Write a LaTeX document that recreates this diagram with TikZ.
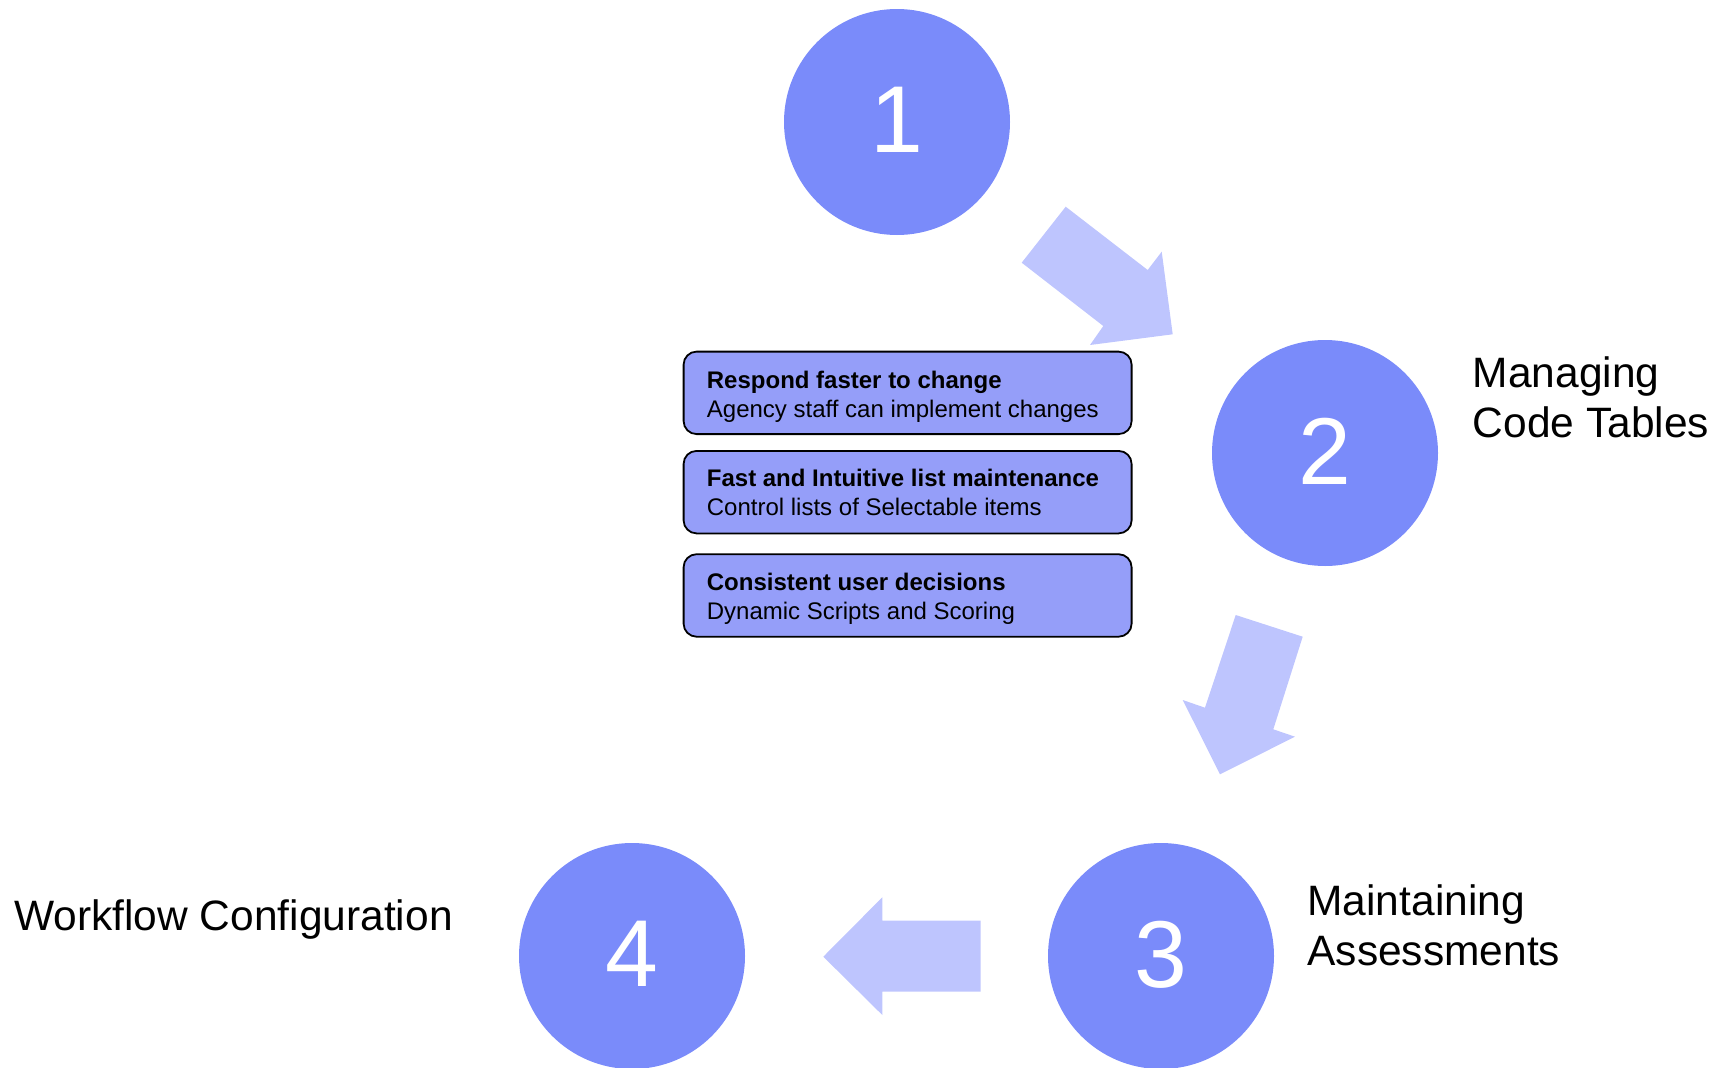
\documentclass[tikz,border=0pt]{standalone}
\usepackage{fontspec}
\setmainfont{Liberation Sans}
\definecolor{circfill}{HTML}{7A8BFA}
\definecolor{boxfill}{HTML}{959EF9}
\definecolor{arrowfill}{HTML}{BEC5FE}
\begin{document}
\begin{tikzpicture}[x=1pt,y=-1pt,
  numcirc/.style={circle,fill=circfill,minimum size=226pt,inner sep=0pt,text=white,
    font=\fontsize{95}{95}\selectfont},
  infobox/.style={draw=black,line width=1.8pt,rounded corners=13pt,fill=boxfill,
    minimum width=448pt,minimum height=82.5pt,anchor=north west,inner sep=0pt},
  boxtext/.style={anchor=base west,align=left,inner sep=0pt,
    font=\fontsize{24}{29}\selectfont},
  lbl/.style={anchor=base west,align=left,inner sep=0pt,font=\fontsize{42.5}{50}\selectfont},
  blockarrow/.style={fill=arrowfill}]
\useasboundingbox (0,0) rectangle (1711,1068);
% circles
\node[numcirc] (c1) at (897,122) {\raisebox{4pt}{1}};
\node[numcirc] (c2) at (1325,453) {\raisebox{4pt}{2}};
\node[numcirc] (c3) at (1161,956) {\raisebox{4pt}{3}};
\node[numcirc] (c4) at (632,956) {\raisebox{4pt}{4}};
% block arrows
\fill[blockarrow] (1065.7,206.7) -- (1147.7,270) -- (1161.7,251.7) -- (1172.7,334.3)
  -- (1090,345) -- (1103.3,326) -- (1021.7,262.7) -- cycle;
\fill[blockarrow] (1235.7,615) -- (1302.7,636.7) -- (1273.3,729.3) -- (1295,736.7)
  -- (1220,774.3) -- (1182.7,700) -- (1205,707.7) -- cycle;
\fill[blockarrow] (823.3,956.7) -- (882.3,897.3) -- (882.3,920.7) -- (980.7,920.7)
  -- (980.7,991.7) -- (882.3,991.7) -- (882.3,1015) -- cycle;
% boxes
\node[infobox] (b1) at (682.7,350.7) {};
\node[infobox] (b2) at (682.7,450) {};
\node[infobox] (b3) at (682.7,553.3) {};
\node[boxtext] (t1) at ([shift={(24,66.3)}]b1.north west) {\textbf{Respond faster to change}\\Agency staff can implement changes};
\node[boxtext] (t2) at ([shift={(24,65.8)}]b2.north west) {\textbf{Fast and Intuitive list maintenance}\\Control lists of Selectable items};
\node[boxtext] (t3) at ([shift={(24,65.8)}]b3.north west) {\textbf{Consistent user decisions}\\Dynamic Scripts and Scoring};
% labels
\node[lbl] (l2) at (1472.7,437) {Managing\\Code Tables};
\node[lbl] (l3) at (1307.3,965) {Maintaining\\Assessments};
\node[lbl] (l4) at (14,930) {Workflow Configuration};
\end{tikzpicture}
\end{document}
